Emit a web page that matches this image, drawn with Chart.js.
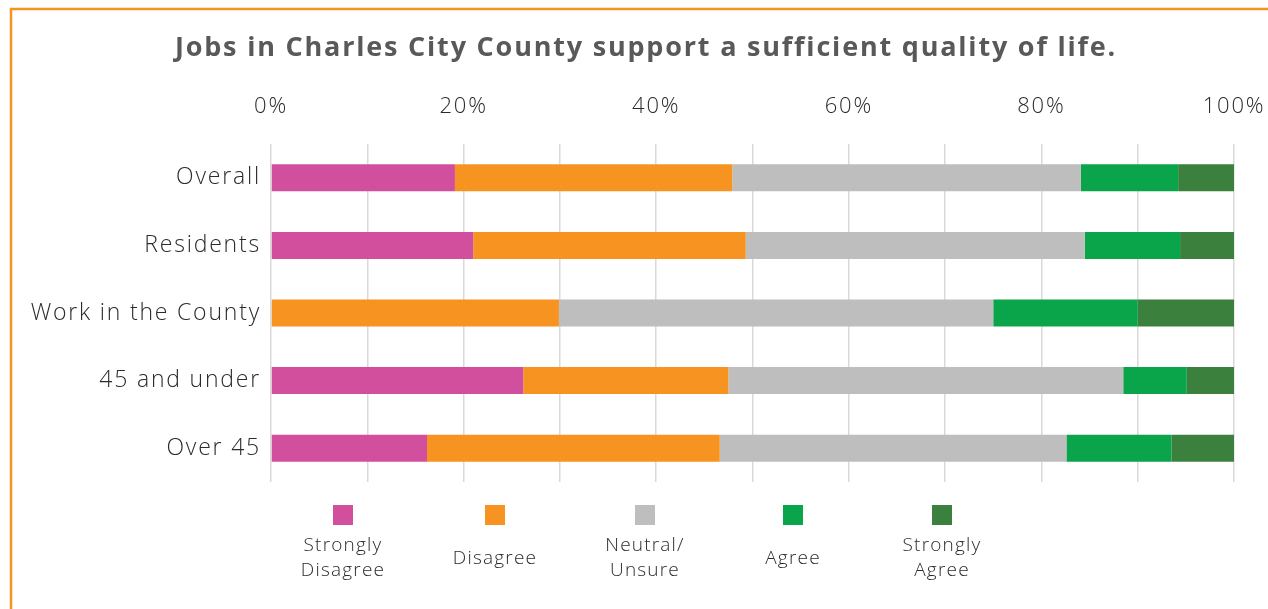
<!DOCTYPE html>
<html>
<head>
<meta charset="utf-8">
<title>Jobs survey</title>
<script src="https://cdn.jsdelivr.net/npm/chart.js@4.4.1/dist/chart.umd.min.js"></script>
<style>
  html, body { margin: 0; padding: 0; background: #fff; }
  #wrap { width: 1268px; height: 609px; position: relative; }
</style>
</head>
<body>
<div id="wrap"><canvas id="myChart" width="1268" height="609"></canvas></div>
<script>
const chartTitle = 'Jobs in Charles City County support a sufficient quality of life.';
const groups = ['Overall', 'Residents', 'Work in the County', '45 and under', 'Over 45'];
const answers = ['Strongly Disagree', 'Disagree', 'Neutral/ Unsure', 'Agree', 'Strongly Agree'];
// legend text split over lines
const answerLines = [['Strongly', 'Disagree'], ['Disagree'], ['Neutral/', 'Unsure'], ['Agree'], ['Strongly', 'Agree']];
const colors = ['#D14F9C', '#F79421', '#BEBEBE', '#0AA44A', '#3B813D'];

// percent of answers per group
const stronglyDisagree = [19.1, 21.0, 0, 26.2, 16.2];
const disagree = [28.8, 28.3, 29.9, 21.3, 30.4];
const neutral = [36.2, 35.2, 45.1, 41.0, 36.0];
const agree = [10.1, 9.9, 15.0, 6.6, 10.9];
const stronglyAgree = [5.8, 5.6, 10.0, 4.9, 6.5];
const series = [stronglyDisagree, disagree, neutral, agree, stronglyAgree];

const FONT = '"Open Sans", sans-serif';

// frame, title and legend (plus wider letter spacing for axis text)
const extras = {
  id: 'extras',
  beforeDraw(chart) {
    const ctx = chart.ctx;
    ctx.letterSpacing = '1.8px';
    ctx.save();
    ctx.fillStyle = '#fff';
    ctx.fillRect(0, 0, chart.width, chart.height);
    ctx.strokeStyle = '#F79421';
    ctx.lineWidth = 2.5;
    ctx.beginPath();
    ctx.moveTo(11, chart.height);
    ctx.lineTo(11, 9);
    ctx.lineTo(chart.width, 9);
    ctx.stroke();
    ctx.restore();
  },
  afterDraw(chart) {
    const ctx = chart.ctx;
    ctx.save();
    ctx.fillStyle = '#595959';
    ctx.font = 'bold 27px ' + FONT;
    ctx.letterSpacing = '1.8px';
    ctx.textAlign = 'center';
    ctx.textBaseline = 'middle';
    ctx.fillText(chartTitle, 646, 48);

    const xs = [343, 495, 645, 793, 942];
    ctx.letterSpacing = '1.2px';
    chart.data.datasets.forEach((ds, i) => {
      ctx.fillStyle = ds.backgroundColor;
      ctx.fillRect(xs[i] - 10, 505, 20, 20);
      ctx.fillStyle = '#2b2b2b';
      ctx.font = '300 19px ' + FONT;
      const lines = answerLines[i];
      const y0 = lines.length === 1 ? 559 : 546;
      lines.forEach((t, j) => ctx.fillText(t, xs[i], y0 + j * 25));
    });
    ctx.restore();
  }
};

const ctx = document.getElementById('myChart').getContext('2d');
new Chart(ctx, {
  type: 'bar',
  data: {
    labels: groups,
    datasets: answers.map((name, i) => ({
      label: name,
      data: series[i],
      backgroundColor: colors[i],
      borderWidth: 0,
      barPercentage: 0.4,
      categoryPercentage: 1
    }))
  },
  options: {
    indexAxis: 'y',
    responsive: false,
    animation: false,
    layout: { padding: { top: 84, left: 20, right: 34, bottom: 127 } },
    plugins: { legend: { display: false }, title: { display: false }, tooltip: { enabled: false } },
    scales: {
      x: {
        position: 'top',
        stacked: true,
        min: 0,
        max: 100,
        border: { display: false },
        grid: { color: '#D9D9D9', lineWidth: 1.5, drawTicks: false },
        ticks: {
          stepSize: 10,
          padding: 24,
          color: '#2b2b2b',
          font: { family: FONT, size: 22, weight: '300' },
          callback: v => (v % 20 === 0 ? v + '%' : '')
        },
        afterFit: s => {
          s.height = 60;
          s.paddingLeft = 0;
          s.paddingRight = 0;
        }
      },
      y: {
        stacked: true,
        border: { display: false },
        grid: { display: false, drawTicks: false },
        ticks: {
          padding: 10,
          color: '#2b2b2b',
          font: { family: FONT, size: 23, weight: '300' }
        },
        afterFit: s => { s.width = 251; }
      }
    }
  },
  plugins: [extras]
});
</script>
</body>
</html>
